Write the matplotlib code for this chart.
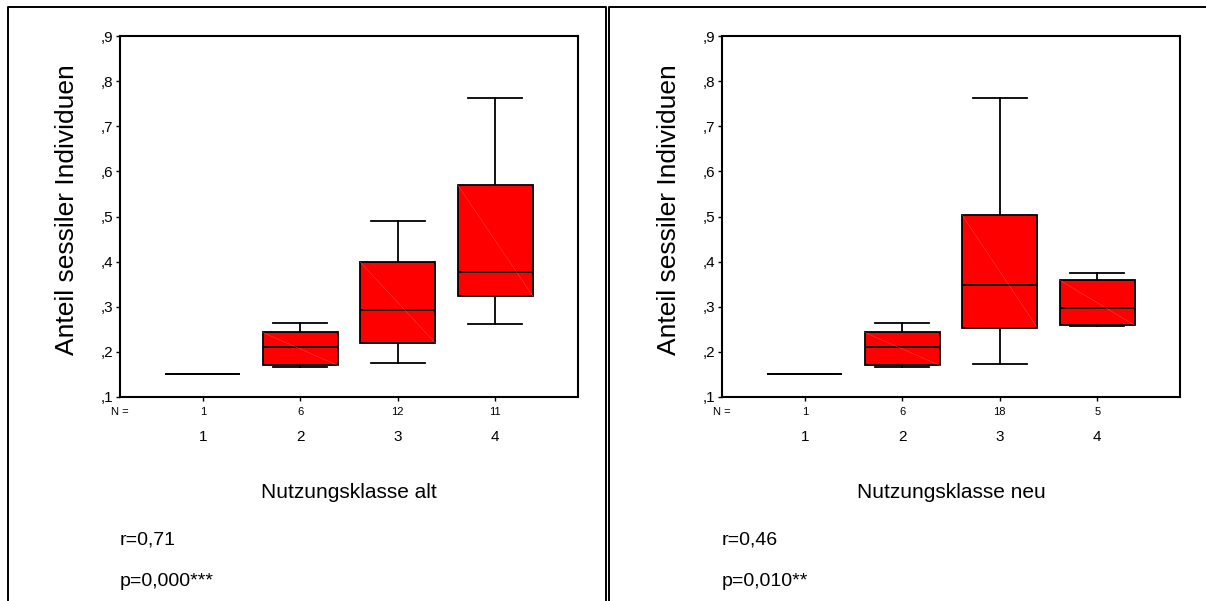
import matplotlib.pyplot as plt
from matplotlib.lines import Line2D
from matplotlib.transforms import blended_transform_factory

plt.rcParams['font.family'] = ['Liberation Sans', 'DejaVu Sans']

classes = [1, 2, 3, 4]
y_ticks = [0.1, 0.2, 0.3, 0.4, 0.5, 0.6, 0.7, 0.8, 0.9]
y_ticklabels = [',1', ',2', ',3', ',4', ',5', ',6', ',7', ',8', ',9']

# Nutzungsklasse alt: n, lower whisker, q1, median, q3, upper whisker
alt_n = [1, 6, 12, 11]
alt_low = [0.150, 0.167, 0.175, 0.261]
alt_q1 = [0.150, 0.170, 0.220, 0.324]
alt_med = [0.150, 0.211, 0.292, 0.376]
alt_q3 = [0.150, 0.243, 0.399, 0.570]
alt_high = [0.150, 0.265, 0.490, 0.763]

# Nutzungsklasse neu
neu_n = [1, 6, 18, 5]
neu_low = [0.150, 0.167, 0.174, 0.257]
neu_q1 = [0.150, 0.170, 0.254, 0.259]
neu_med = [0.150, 0.211, 0.348, 0.298]
neu_q3 = [0.150, 0.243, 0.503, 0.359]
neu_high = [0.150, 0.265, 0.763, 0.374]

panels = [
    (alt_n, alt_low, alt_q1, alt_med, alt_q3, alt_high,
     'Nutzungsklasse alt', 'r=0,71', 'p=0,000***', 120),
    (neu_n, neu_low, neu_q1, neu_med, neu_q3, neu_high,
     'Nutzungsklasse neu', 'r=0,46', 'p=0,010**', 722),
]

W, H = 1206, 601
fig = plt.figure(figsize=(W / 100, H / 100), dpi=100)

box_w = 0.77
for n, low, q1, med, q3, high, xlab, rtxt, ptxt, left in panels:
    ax = fig.add_axes([left / W, 1 - 397 / H, 458 / W, 361 / H])
    stats = [dict(whislo=a, q1=b, med=c, q3=d, whishi=e, fliers=[])
             for a, b, c, d, e in zip(low, q1, med, q3, high)]
    ax.bxp(stats, positions=classes, widths=box_w, capwidths=0.55,
           patch_artist=True, showfliers=False,
           boxprops=dict(facecolor='#ff0000', edgecolor='black', linewidth=1.3),
           medianprops=dict(color='black', linewidth=1.3),
           whiskerprops=dict(color='black', linewidth=1.3),
           capprops=dict(color='black', linewidth=1.3))
    # faint diagonal seen inside the boxes of the original
    for c, a, b in zip(classes, q1, q3):
        if b > a:
            ax.plot([c - box_w / 2, c + box_w / 2], [b, a],
                    color='#ff5050', lw=0.3, zorder=2.5)

    ax.set_xlim(0.15, 4.85)
    ax.set_ylim(0.1, 0.9)
    ax.set_yticks(y_ticks, y_ticklabels)
    ax.set_xticks(classes, [str(c) for c in classes])
    ax.tick_params(axis='y', direction='out', length=3, width=1,
                   labelsize=11, pad=2)
    ax.tick_params(axis='x', direction='out', length=3, width=1,
                   labelsize=11, pad=21)
    for s in ax.spines.values():
        s.set_linewidth(1.5)

    trans = blended_transform_factory(ax.transData, ax.transAxes)
    for c, k in zip(classes, n):
        ax.text(c, -15 / 361, str(k), transform=trans, ha='center',
                va='center', fontsize=8)
    ax.text(0, -15 / 361, 'N =', transform=ax.transAxes, ha='center',
            va='center', fontsize=8)

    ax.set_ylabel('Anteil sessiler Individuen', fontsize=19)
    ax.yaxis.set_label_coords(-0.09, 0.518)
    ax.text(0.5, -0.265, xlab, transform=ax.transAxes, ha='center',
            va='center', fontsize=15)
    ax.text(0, -0.396, rtxt, transform=ax.transAxes, ha='left',
            va='center', fontsize=14)
    ax.text(0, -0.512, ptxt, transform=ax.transAxes, ha='left',
            va='center', fontsize=14)

# panel frames
def frame(xs, ys):
    fig.add_artist(Line2D([x / W for x in xs], [1 - y / H for y in ys],
                          color='black', lw=1.4))

frame([8, 8, 606, 606], [610, 6.5, 6.5, 610])
frame([608.7, 608.7, 1215], [610, 6.5, 6.5])

fig.savefig('out.png', dpi=100)
